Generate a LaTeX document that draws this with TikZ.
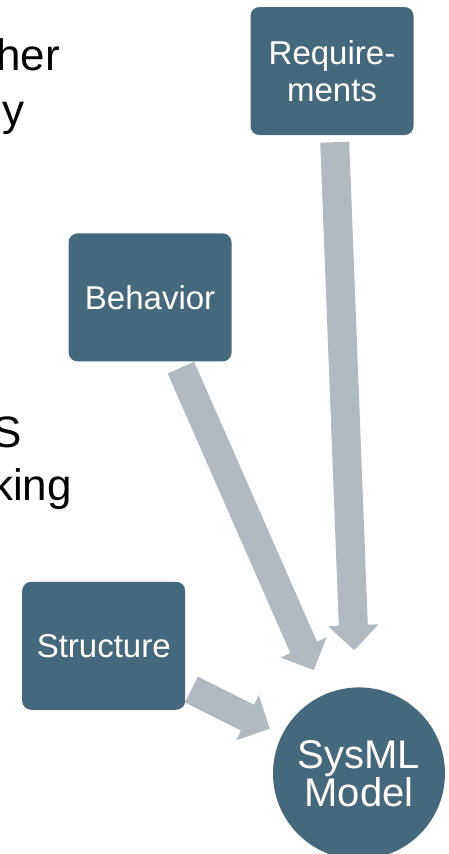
\documentclass[tikz,border=0pt]{standalone}
\usepackage{fontspec}
\setmainfont{Liberation Sans}
\usepackage{tikz}
\usetikzlibrary{arrows.meta}
\usetikzlibrary{positioning}
\definecolor{boxblue}{RGB}{70,104,124}
\definecolor{flowgrey}{RGB}{177,185,193}
\tikzstyle{block} = [rectangle, fill=boxblue, rounded corners=9pt, minimum width=163pt, minimum height=128pt, inner sep=0pt, text=white, font=\fontsize{33}{37}\selectfont]
\tikzstyle{model} = [circle, fill=boxblue, minimum size=172pt, inner sep=0pt, text=white, font=\fontsize{40}{35}\selectfont]
\tikzstyle{flow} = [draw=flowgrey, line width=29pt, -{Triangle[width=49pt, length=25pt]}]
\tikzstyle{cut} = [anchor=base east, inner sep=0pt, font=\fontsize{44}{50}\selectfont]

\begin{document}
\begin{tikzpicture}[x=1pt, y=-1pt, every text node part/.style={align=center}]
   \useasboundingbox (0,0) rectangle (449,854);
   \clip (0,0) rectangle (449,854);
   % Place nodes
   \node [block] (1) at (332,71) {Require-\\ments};
   \node [block, below left = 98pt and 18.5pt of 1] (2) {Behavior};
   \node [block, below left = 220pt and -117pt of 2] (3) {Structure};
   \node [model, below = 552pt of 1, xshift=27pt] (4) {SysML\\Model};
   % text running off the left side
   \node [cut] (t1) at (60,70) {her};
   \node [cut] (t2) at (25,125) {y};
   \node [cut] (t3) at (22,447) {S};
   \node [cut] (t4) at (72,500) {king};
   % arrows into the model
   \draw[flow, shorten <=7pt, shorten >=37pt] (1) -- (4);
   \draw[flow, shorten <=6.5pt, shorten >=26.5pt] (2) -- (4);
   \draw[flow, shorten <=6.7pt, shorten >=13.5pt] (3) -- (4);
\end{tikzpicture}
\end{document}
